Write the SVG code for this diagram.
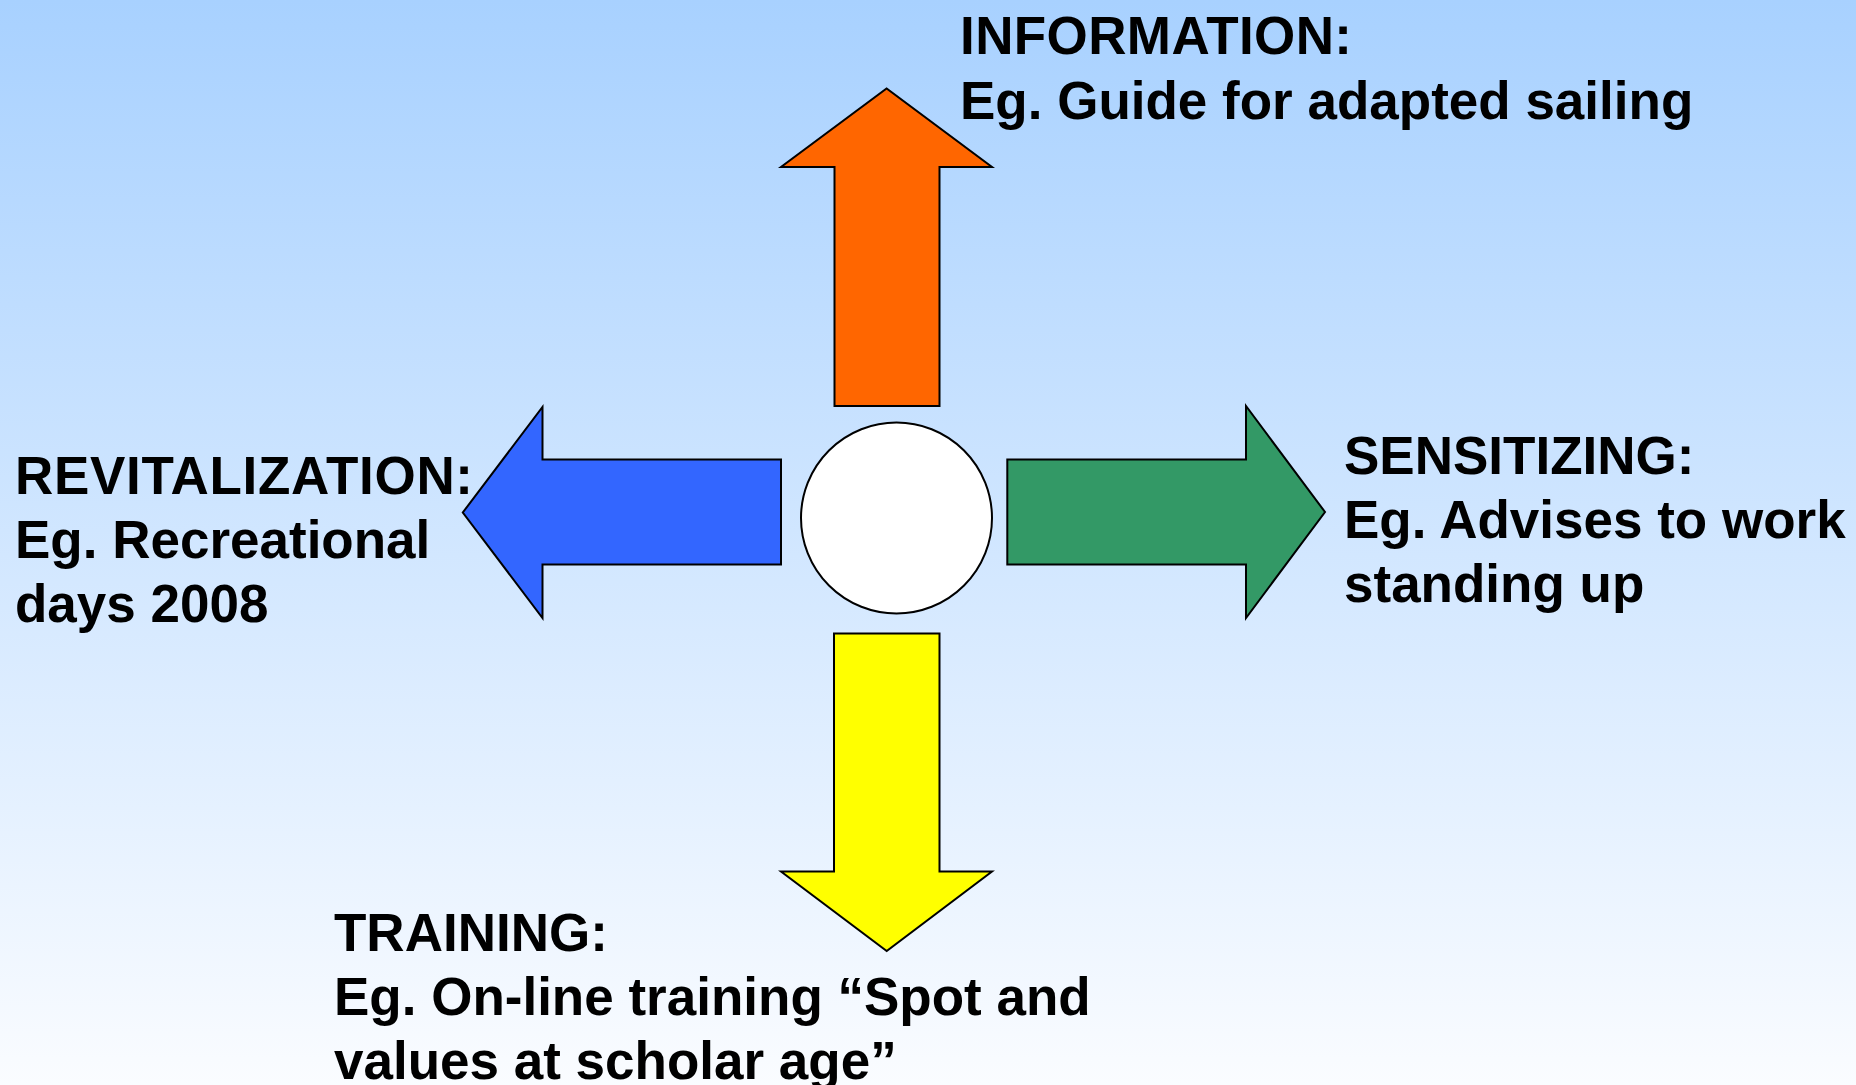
<svg xmlns="http://www.w3.org/2000/svg" width="1856" height="1085" viewBox="0 0 1856 1085">
  <defs>
    <linearGradient id="sky" x1="0" y1="0" x2="0" y2="1">
      <stop offset="0" stop-color="#A8D1FF"/>
      <stop offset="1" stop-color="#FAFCFF"/>
    </linearGradient>
  </defs>
  <style>
    .shape { stroke: #000000; stroke-width: 2; stroke-linejoin: miter; }
    .label { font-family: "Liberation Sans", Arial, sans-serif; font-weight: bold; font-size: 53px; fill: #000000; }
  </style>

  <rect x="0" y="0" width="1856" height="1085" fill="url(#sky)"/>

  <!-- centre hub -->
  <g id="hub">
    <circle class="shape" cx="896.5" cy="518" r="95.5" fill="#FFFFFF"/>
  </g>

  <!-- arrows radiating from the hub -->
  <g id="connectors">
    <polygon id="arrow-up" class="shape" fill="#FF6600"
      points="834.5,406 834.5,167 781,167 886.6,88.5 992,167 939.5,167 939.5,406"/>
    <polygon id="arrow-left" class="shape" fill="#3366FF"
      points="781,459.5 542.5,459.5 542.5,407 462.8,512.5 542.5,618 542.5,564.5 781,564.5"/>
    <polygon id="arrow-right" class="shape" fill="#339966"
      points="1007.3,459.5 1246,459.5 1246,406 1325,512 1246,618 1246,564.5 1007.3,564.5"/>
    <polygon id="arrow-down" class="shape" fill="#FFFF00"
      points="834,633.5 939.5,633.5 939.5,871.5 992,871.5 886.7,951 781,871.5 834,871.5"/>
  </g>

  <g id="information">
    <text class="label" x="960" y="54" textLength="392" lengthAdjust="spacing">INFORMATION:</text>
    <text class="label" x="960" y="118.5">Eg. Guide for adapted sailing</text>
  </g>

  <g id="revitalization">
    <text class="label" x="15" y="493.5" textLength="458" lengthAdjust="spacing">REVITALIZATION:</text>
    <text class="label" x="15" y="557.5">Eg. Recreational</text>
    <text class="label" x="15" y="621.5">days 2008</text>
  </g>

  <g id="sensitizing">
    <text class="label" x="1344" y="474">SENSITIZING:</text>
    <text class="label" x="1344" y="538">Eg. Advises to work</text>
    <text class="label" x="1344" y="602">standing up</text>
  </g>

  <g id="training">
    <text class="label" x="334" y="951">TRAINING:</text>
    <text class="label" x="334" y="1015">Eg. On-line training “Spot and</text>
    <text class="label" x="334" y="1079">values at scholar age”</text>
  </g>
</svg>
